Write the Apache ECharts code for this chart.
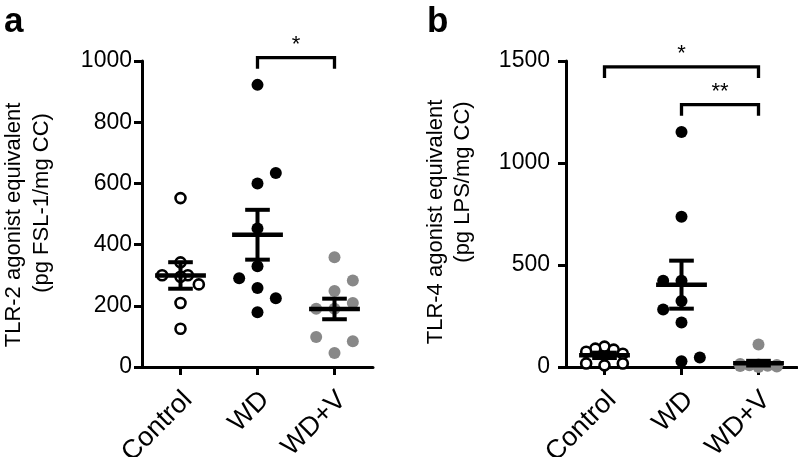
<!DOCTYPE html>
<html><head><meta charset="utf-8">
<script src="https://cdn.jsdelivr.net/npm/echarts@6/dist/echarts.min.js"></script>
<style>html,body{margin:0;padding:0;background:#fff}#c{width:798px;height:457px}</style>
</head><body><div id="c"></div>
<script>
// ---------- data ----------
const categories = ['Control', 'WD', 'WD+V'];
// Panel a: TLR-2 agonist equivalent (pg FSL-1/mg CC)
const tlr2Control = [552, 342, 300, 300, 295, 270, 209, 125];
const tlr2WD      = [922, 634, 600, 453, 329, 290, 258, 225, 179];
const tlr2WDV     = [359, 283, 248, 209, 190, 190, 98, 84, 46];
// Panel b: TLR-4 agonist equivalent (pg LPS/mg CC)
const tlr4Control = [100, 90, 85, 75, 65, 17, 8, 17];
const tlr4WD      = [1152, 737, 423, 423, 324, 282, 218, 46, 28];
const tlr4WDV     = [110, 15, 12, 10, 8, 6, 5, 3, 0];
// axis ranges / ticks
const yTicksA = [0, 200, 400, 600, 800, 1000];
const yTicksB = [0, 500, 1000, 1500];
// significance brackets (category indices, bracket level in data units)
const bracketsA = [{from: 1, to: 2, top: 1011, label: '*'}];
const bracketsB = [{from: 0, to: 2, top: 1471, label: '*'}, {from: 1, to: 2, top: 1286, label: '**'}];
// horizontal scatter offsets (layout only, in units of spread)
const jitterA = [[0, 0, -1, 0.4, 0, 1, 0, 0], [0, 1, 0, 0, 0, -1, 0, 1, 0], [0, 1, 0, 1, -1, 0, -1, 1, 0]];
const jitterB = [[0, -0.5, 0.5, -1, 1, -1, 0, 1], [0, 0, -1, 0, 0, -1, 0, 1, 0], [0, -1, 0, 1, -0.5, 0.5, -1, 1, 0]];

// ---------- helpers ----------
const FONT = 'Liberation Sans, Arial, Helvetica, sans-serif';
const SPREAD = 0.238;
function pts(values, jit, idx) { return values.map((v, k) => [idx + jit[k] * SPREAD, v]); }
function stats(values) {
  const n = values.length;
  const m = values.reduce((a, b) => a + b, 0) / n;
  const sd = Math.sqrt(values.reduce((a, b) => a + (b - m) * (b - m), 0) / (n - 1));
  return [m, sd / Math.sqrt(n)];
}
const styles = [
  {symbolSize: 10, itemStyle: {color: '#fff', borderColor: '#000', borderWidth: 2.6, opacity: 1}},
  {symbolSize: 12, itemStyle: {color: '#000', opacity: 1}},
  {symbolSize: 12, itemStyle: {color: '#888', opacity: 1}}
];

function errRender(params, api) {
  const x = api.value(0), m = api.value(1), s = api.value(2);
  const pm = api.coord([x, m]);
  const hi = api.coord([x, m + s]);
  const lo = api.coord([x, m - s]);
  const hw = api.size([0.33, 0])[0];
  const cw = api.size([0.16, 0])[0];
  const st = {stroke: '#000', lineWidth: 4};
  return {type: 'group', children: [
    {type: 'line', shape: {x1: hi[0], y1: hi[1], x2: lo[0], y2: lo[1]}, style: st},
    {type: 'line', shape: {x1: pm[0] - hw, y1: pm[1], x2: pm[0] + hw, y2: pm[1]}, style: {stroke: '#000', lineWidth: 4.5}},
    {type: 'line', shape: {x1: hi[0] - cw, y1: hi[1], x2: hi[0] + cw, y2: hi[1]}, style: st},
    {type: 'line', shape: {x1: lo[0] - cw, y1: lo[1], x2: lo[0] + cw, y2: lo[1]}, style: st}
  ]};
}
function bracketRender(list) {
  return function (params, api) {
    const b = list[params.dataIndex];
    const p1 = api.coord([b.from, b.top]);
    const p2 = api.coord([b.to, b.top]);
    const drop = 11;
    return {type: 'group', children: [
      {type: 'polyline', shape: {points: [[p1[0], p1[1] + drop], [p1[0], p1[1]], [p2[0], p2[1]], [p2[0], p2[1] + drop]]},
       style: {stroke: '#000', lineWidth: 3.3, fill: null}},
      {type: 'text', style: {text: b.label, x: (p1[0] + p2[0]) / 2, y: p1[1] - 13, align: 'center', verticalAlign: 'middle',
        font: '22px ' + FONT, fill: '#000'}}
    ]};
  };
}

function panelSeries(groups, jit, xIdx, yIdx, brackets) {
  const out = [];
  groups.forEach((g, i) => {
    out.push(Object.assign({
      type: 'scatter', name: categories[i], xAxisIndex: xIdx, yAxisIndex: yIdx, z: 2,
      data: pts(g, jit[i], i), silent: true
    }, styles[i]));
  });
  out.push({
    type: 'custom', xAxisIndex: xIdx, yAxisIndex: yIdx, z: 5, silent: true,
    renderItem: errRender,
    data: groups.map((g, i) => { const s = stats(g); return [i, s[0], s[1]]; })
  });
  out.push({
    type: 'custom', xAxisIndex: xIdx, yAxisIndex: yIdx, z: 5, silent: true, clip: false,
    renderItem: bracketRender(brackets),
    data: brackets.map(b => [b.from, b.top])
  });
  return out;
}

const tickStyle = {show: true, length: 8, lineStyle: {color: '#000', width: 3}};
function catAxis(gi) {
  return {
    type: 'category', gridIndex: gi, data: categories, boundaryGap: true,
    axisLine: {show: true, onZero: false, lineStyle: {color: '#000', width: 3}},
    axisTick: Object.assign({alignWithLabel: true}, tickStyle),
    axisLabel: {rotate: 45, fontSize: 27, fontFamily: FONT, color: '#000', margin: 10,
      verticalAlign: 'top', padding: [5, 8, 0, 0], interval: 0, hideOverlap: false}
  };
}
function hiddenX(gi) { return {type: 'value', gridIndex: gi, min: -0.5, max: 2.5, show: false}; }
function valAxis(gi, ticks, margin) {
  return {
    type: 'value', gridIndex: gi, min: ticks[0], max: ticks[ticks.length - 1], interval: ticks[1] - ticks[0],
    axisLine: {show: true, onZero: false, lineStyle: {color: '#000', width: 3}},
    axisTick: tickStyle, splitLine: {show: false},
    axisLabel: {fontSize: 23, fontFamily: FONT, color: '#000', margin: margin, formatter: v => String(v)}
  };
}

const option = {
  backgroundColor: '#fff',
  animation: false,
  grid: [
    {left: 142, top: 61, width: 231, height: 306, containLabel: false, outerBoundsMode: 'none'},
    {left: 566, top: 61, width: 231, height: 306, containLabel: false, outerBoundsMode: 'none'}
  ],
  xAxis: [catAxis(0), hiddenX(0), catAxis(1), hiddenX(1)],
  yAxis: [valAxis(0, yTicksA, 10), valAxis(1, yTicksB, 16)],
  graphic: [
    {type: 'text', left: 4, top: 5, style: {text: 'a', font: 'bold 35px ' + FONT, fill: '#000'}},
    {type: 'text', left: 427, top: 5, style: {text: 'b', font: 'bold 35px ' + FONT, fill: '#000'}},
    {type: 'text', x: 14, y: 225, rotation: Math.PI / 2, style: {text: 'TLR-2 agonist equivalent', font: '22px ' + FONT, fill: '#000', align: 'center', verticalAlign: 'middle'}},
    {type: 'text', x: 42, y: 203, rotation: Math.PI / 2, style: {text: '(pg FSL-1/mg CC)', font: '22px ' + FONT, fill: '#000', align: 'center', verticalAlign: 'middle'}},
    {type: 'text', x: 436, y: 222, rotation: Math.PI / 2, style: {text: 'TLR-4 agonist equivalent', font: '22px ' + FONT, fill: '#000', align: 'center', verticalAlign: 'middle'}},
    {type: 'text', x: 463, y: 182, rotation: Math.PI / 2, style: {text: '(pg LPS/mg CC)', font: '22px ' + FONT, fill: '#000', align: 'center', verticalAlign: 'middle'}}
  ],
  series: [].concat(
    panelSeries([tlr2Control, tlr2WD, tlr2WDV], jitterA, 1, 0, bracketsA),
    panelSeries([tlr4Control, tlr4WD, tlr4WDV], jitterB, 3, 1, bracketsB)
  )
};
const chart = echarts.init(document.getElementById('c'));
chart.setOption(option);
</script>
</body></html>
